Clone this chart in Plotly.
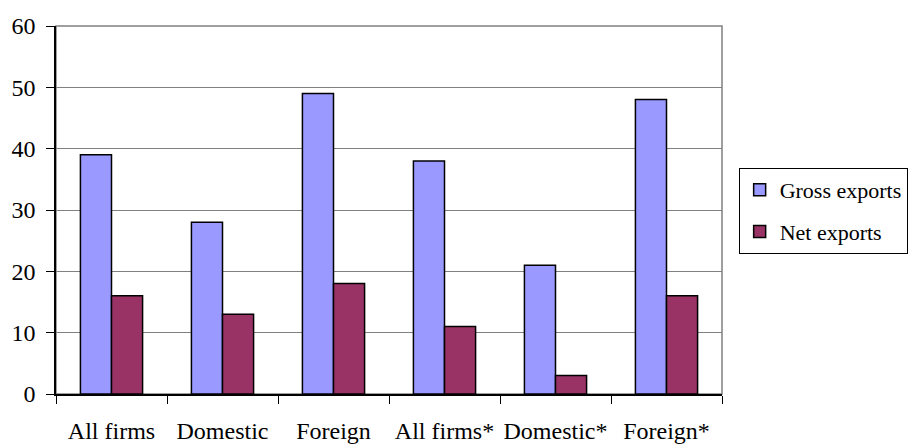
import plotly.graph_objects as go

categories = ["All firms", "Domestic", "Foreign", "All firms*", "Domestic*", "Foreign*"]
gross_exports = [39, 28, 49, 38, 21, 48]
net_exports = [16, 13, 18, 11, 3, 16]
y_ticks = [0, 10, 20, 30, 40, 50, 60]

FONT = "Liberation Serif"

fig = go.Figure()
fig.add_trace(go.Bar(name="Gross exports", x=categories, y=gross_exports,
                     marker=dict(color="#9999FF", line=dict(color="black", width=1.5)),
                     legendgroup="g"))
fig.add_trace(go.Bar(name="Net exports", x=categories, y=net_exports,
                     marker=dict(color="#993366", line=dict(color="black", width=1.5)),
                     legendgroup="n"))

fig.update_layout(
    width=921, height=444,
    margin=dict(l=56, r=199, t=26, b=50),
    paper_bgcolor="white", plot_bgcolor="white",
    font=dict(family=FONT, size=24, color="black"),
    barmode="group", bargap=0.44, bargroupgap=0,
    showlegend=True,
    legend=dict(x=1.025, y=0.614, xanchor="left", yanchor="top",
                bordercolor="black", borderwidth=1, bgcolor="white",
                font=dict(family=FONT, size=22), tracegroupgap=10,
                traceorder="grouped", itemwidth=30),
    shapes=[dict(type="rect", xref="paper", yref="paper", x0=0, x1=1, y0=0, y1=1,
                 line=dict(color="#808080", width=1.5), layer="below")],
)
fig.update_xaxes(showline=True, linecolor="black", linewidth=1.5, automargin=False,
                 ticks="outside", tickson="boundaries", ticklen=8, tickcolor="black",
                 tickfont=dict(family=FONT, size=24), ticklabelstandoff=14, tickangle=0,
                 showgrid=False)
fig.update_yaxes(range=[0, 60], tickvals=y_ticks, showline=True, linecolor="black",
                 linewidth=1.5, ticks="outside", ticklen=8, tickcolor="black", automargin=False,
                 tickfont=dict(family=FONT, size=24), ticklabelstandoff=6,
                 showgrid=True, gridcolor="#808080", gridwidth=1.2, zeroline=False)

fig.write_html("out.html", config={"displayModeBar": False},
               post_script="document.body.style.margin='0';")
